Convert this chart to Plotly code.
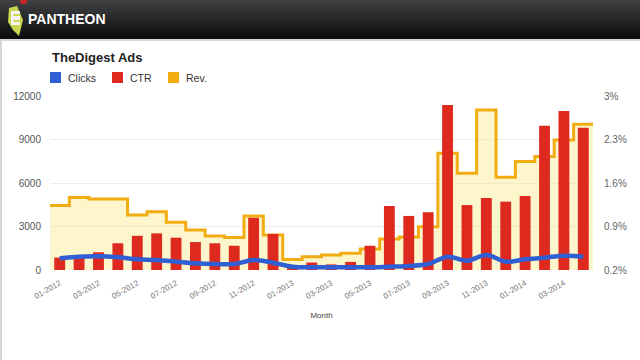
import plotly.graph_objects as go

# ---- data ----
months = ["01-2012", "02-2012", "03-2012", "04-2012", "05-2012", "06-2012", "07-2012",
          "08-2012", "09-2012", "10-2012", "11-2012", "12-2012", "01-2013", "02-2013",
          "03-2013", "04-2013", "05-2013", "06-2013", "07-2013", "08-2013", "09-2013",
          "10-2013", "11-2013", "12-2013", "01-2014", "02-2014", "03-2014", "04-2014"]
clicks = [805, 920, 945, 875, 736, 690, 575, 460, 414, 414, 690, 505, 230, 184,
          184, 184, 184, 230, 276, 414, 920, 644, 1035, 575, 736, 850, 990, 920]
ctr = [0.40, 0.40, 0.485, 0.63, 0.75, 0.79, 0.72, 0.65, 0.63, 0.59, 1.04, 0.78, 0.23, 0.32,
       0.29, 0.33, 0.59, 1.23, 1.07, 1.13, 2.855, 1.245, 1.36, 1.30, 1.39, 2.52, 2.76, 2.49]
rev = [4450, 5000, 4900, 4900, 3800, 4020, 3290, 2760, 2350, 2250, 3730, 2420, 720, 920,
       1030, 1150, 1440, 2130, 2280, 2990, 8050, 6670, 11040, 6400, 7480, 7820, 8970, 10050]
left_ticks = [0, 3000, 6000, 9000, 12000]
right_ticks = [0.2, 0.9, 1.6, 2.3, 3.0]
right_tick_text = ["0.2%", "0.9%", "1.6%", "2.3%", "3%"]
series_names = ["Clicks", "CTR", "Rev."]
series_colors = ["#2f5fd2", "#de2a1e", "#f2ad12"]

W, H = 640, 360
L, R, T, B = 50, 47, 96, 90
PW, PH = W - L - R, H - T - B


def px(xp):
    return (xp - L) / PW


def py(yp):
    return (H - B - yp) / PH


idx = list(range(len(months)))
edges = [i - 0.5 for i in idx] + [idx[-1] + 0.5]
rev_steps = rev + [rev[-1]]

fig = go.Figure()
fig.add_trace(go.Scatter(x=edges, y=rev_steps, mode="lines", line_shape="hv",
                         fill="tozeroy", fillcolor="rgba(250,226,110,0.36)",
                         line=dict(color=series_colors[2], width=3),
                         yaxis="y", showlegend=False, hoverinfo="skip"))
fig.add_trace(go.Bar(x=idx, y=ctr, yaxis="y2", width=0.56,
                     marker=dict(color=series_colors[1], line=dict(width=0)),
                     showlegend=False, hoverinfo="skip"))
fig.add_trace(go.Scatter(x=idx, y=clicks, mode="lines", line_shape="spline",
                         line=dict(color=series_colors[0], width=4.5),
                         yaxis="y3", showlegend=False, hoverinfo="skip"))

shapes = []
annotations = []

# header bar gradient
top_c = (62, 64, 66)
bot_c = (10, 12, 13)
nb = 13
for k in range(nb):
    f = k / (nb - 1)
    c = tuple(int(top_c[j] + (bot_c[j] - top_c[j]) * f) for j in range(3))
    shapes.append(dict(type="rect", xref="paper", yref="paper",
                       x0=px(0), x1=px(W), y0=py(k * 3 + 3), y1=py(k * 3),
                       fillcolor="rgb(%d,%d,%d)" % c, line=dict(width=0), layer="below"))
shapes.append(dict(type="rect", xref="paper", yref="paper", x0=px(0), x1=px(W),
                   y0=py(41), y1=py(39), fillcolor="#d9d9d9", line=dict(width=0), layer="below"))
# logo
shapes.append(dict(type="path", xref="paper", yref="paper",
                   path="M %f,%f L %f,%f L %f,%f L %f,%f L %f,%f L %f,%f Z" % (
                       px(9), py(8), px(17), py(6), px(23), py(20), px(19), py(36),
                       px(13), py(30), px(8), py(22)),
                   fillcolor="#c9d84e", line=dict(width=0)))
shapes.append(dict(type="path", xref="paper", yref="paper",
                   path="M %f,%f L %f,%f L %f,%f L %f,%f Z" % (
                       px(20), py(0), px(28), py(0), px(26), py(4), px(21), py(4)),
                   fillcolor="#c8262a", line=dict(width=0)))
for (y0, y1) in [(11, 14), (16, 20), (22, 25)]:
    shapes.append(dict(type="rect", xref="paper", yref="paper",
                       x0=px(11), x1=px(20), y0=py(y1), y1=py(y0),
                       fillcolor="#f4f4f4", line=dict(width=0)))
shapes.append(dict(type="rect", xref="paper", yref="paper",
                   x0=px(11), x1=px(13.5), y0=py(25), y1=py(11),
                   fillcolor="#f4f4f4", line=dict(width=0)))
annotations.append(dict(text="<b>PANTHEON</b>", xref="paper", yref="paper",
                        x=px(26), y=py(19), xanchor="left", yanchor="middle",
                        showarrow=False, font=dict(family="Liberation Sans", size=14, color="#ffffff")))
# left edge
shapes.append(dict(type="rect", xref="paper", yref="paper", x0=px(0), x1=px(2),
                   y0=py(H), y1=py(41), fillcolor="#d6d6d6", line=dict(width=0), layer="below"))

# title
annotations.append(dict(text="<b>TheDigest Ads</b>", xref="paper", yref="paper",
                        x=px(50), y=py(58), xanchor="left", yanchor="middle", showarrow=False,
                        font=dict(family="Liberation Sans", size=13, color="#222222")))
# legend
leg_x = [50, 112, 168]
for name, col, x0 in zip(series_names, series_colors, leg_x):
    shapes.append(dict(type="rect", xref="paper", yref="paper",
                       x0=px(x0), x1=px(x0 + 11), y0=py(83), y1=py(72),
                       fillcolor=col, line=dict(width=0)))
    annotations.append(dict(text=name, xref="paper", yref="paper",
                            x=px(x0 + 16), y=py(77.5), xanchor="left", yanchor="middle",
                            showarrow=False,
                            font=dict(family="Liberation Sans", size=10.5, color="#333333")))

fig.update_layout(
    width=W, height=H,
    margin=dict(l=L, r=R, t=T, b=B, autoexpand=False),
    paper_bgcolor="#ffffff", plot_bgcolor="#ffffff",
    font=dict(family="Liberation Sans", color="#555555"),
    shapes=shapes, annotations=annotations,
    xaxis=dict(range=[-0.5, len(months) - 0.5], tickmode="array",
               tickvals=idx[::2], ticktext=months[::2], tickangle=-30,
               tickfont=dict(size=8, color="#777777"), showgrid=False, zeroline=False,
               showline=False, ticks="", ticklabelstandoff=6,
               title=dict(text="Month", font=dict(size=8, color="#444444"), standoff=12)),
    yaxis=dict(range=[0, 12000], tickmode="array", tickvals=left_ticks, tickformat="d",
               tickfont=dict(size=10, color="#555555"), gridcolor="#ececec",
               zeroline=False, showline=False, ticks="", ticklabelstandoff=8),
    yaxis2=dict(range=[0.2, 3.0], overlaying="y", side="right", tickmode="array",
                tickvals=right_ticks, ticktext=right_tick_text,
                tickfont=dict(size=10, color="#666666"), showgrid=False,
                zeroline=False, showline=False, ticks="", ticklabelstandoff=10),
    yaxis3=dict(range=[0, 12000], overlaying="y", visible=False),
    showlegend=False,
)

fig.write_html("out.html", config={"displayModeBar": False},
               post_script="document.body.style.margin='0';")
